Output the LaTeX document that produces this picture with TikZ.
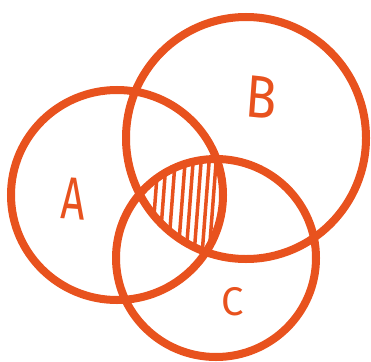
\documentclass[tikz,border=0pt]{standalone}
\usepackage{fontspec}
\setmainfont{Fira Sans}
\definecolor{vorange}{RGB}{232,82,30}
\begin{document}
\begin{tikzpicture}[x=1pt,y=-1pt,
  ring/.style={draw=vorange,line width=8pt},
  hatch/.style={draw=vorange,line width=3.5pt,line cap=round},
  lbl/.style={text=vorange,inner sep=0pt,font=\fontsize{60}{60}\selectfont}]
\useasboundingbox (0,0) rectangle (371,361);
% hatching in A ∩ B ∩ C
\begin{scope}
  \clip (117,195) ellipse [x radius=106,y radius=105];
  \clip (246,138) ellipse [x radius=120,y radius=121];
  \clip (216,258) ellipse [x radius=100,y radius=99];
  \foreach \x in {155,163,172,182,190,198,206,213}
    \draw[hatch] (\x+4,150) -- (\x-4,255);
\end{scope}
\draw[ring] (117,195) ellipse [x radius=106,y radius=105];
\draw[ring] (246,138) ellipse [x radius=120,y radius=121];
\draw[ring] (216,258) ellipse [x radius=100,y radius=99];
\node[lbl,xscale=0.7,rotate=-3] (la) at (73,199) {A};
\node[lbl,xscale=0.85,rotate=-5] (lb) at (261,97) {B};
\node[lbl,font=\fontsize{40}{40}\selectfont] (lc) at (233,302) {C};
\end{tikzpicture}
\end{document}
